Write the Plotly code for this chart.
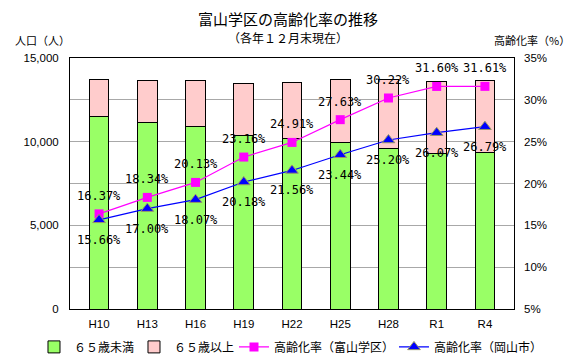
import plotly.graph_objects as go

categories = ["H10", "H13", "H16", "H19", "H22", "H25", "H28", "R1", "R4"]
under65 = [11480, 11145, 10900, 10360, 10170, 9935, 9565, 9305, 9345]
over65 = [2250, 2500, 2745, 3125, 3375, 3795, 4140, 4300, 4320]
rate_tomiyama = [16.37, 18.34, 20.13, 23.16, 24.91, 27.63, 30.22, 31.60, 31.61]
rate_okayama = [15.66, 17.00, 18.07, 20.18, 21.56, 23.44, 25.20, 26.07, 26.79]

JP = "Noto Sans CJK JP"
NUM = "DejaVu Sans Mono, Noto Sans CJK JP"
TICK = "Liberation Sans"

fig = go.Figure()
fig.add_trace(go.Bar(
    x=categories, y=under65, name="６５歳未満", legendwidth=55,
    marker=dict(color="#99FF66", line=dict(color="black", width=1)),
))
fig.add_trace(go.Bar(
    x=categories, y=over65, name="６５歳以上", legendwidth=55,
    marker=dict(color="#FFCCCC", line=dict(color="black", width=1)),
))
fig.add_trace(go.Scatter(
    x=categories, y=rate_tomiyama, name="高齢化率（富山学区）", yaxis="y2",
    mode="lines+markers", legendwidth=115,
    line=dict(color="#FF00FF", width=1.2),
    marker=dict(symbol="square", size=9, color="#FF00FF"),
))
fig.add_trace(go.Scatter(
    x=categories, y=rate_okayama, name="高齢化率（岡山市）", yaxis="y2",
    mode="lines+markers", legend="legend2",
    line=dict(color="#0000FF", width=1.2),
    marker=dict(symbol="triangle-up", size=11, color="#0000FF",
                line=dict(color="#999966", width=1)),
))

annotations = [
    dict(text="富山学区の高齢化率の推移", xref="paper", yref="paper",
         x=0.5, xshift=-4, y=1, yshift=40, showarrow=False, xanchor="center",
         yanchor="middle", font=dict(family=JP, size=15)),
    dict(text="（各年１２月末現在）", xref="paper", yref="paper",
         x=0.5, xshift=-4, y=1, yshift=21, showarrow=False, xanchor="center",
         yanchor="middle", font=dict(family=JP, size=12)),
    dict(text="人口（人）", xref="paper", yref="paper",
         x=0, xshift=-57, y=1, yshift=18, showarrow=False, xanchor="left",
         yanchor="middle", font=dict(family=JP, size=11)),
    dict(text="高齢化率（%）", xref="paper", yref="paper",
         x=1, xshift=58, y=1, yshift=18, showarrow=False, xanchor="right",
         yanchor="middle", font=dict(family=JP, size=11)),
]
for c, v in zip(categories, rate_tomiyama):
    annotations.append(dict(text=f"{v:.2f}%", x=c, y=v, xref="x", yref="y2",
                            yshift=18, showarrow=False,
                            font=dict(family=NUM, size=12, color="black")))
for c, v in zip(categories, rate_okayama):
    annotations.append(dict(text=f"{v:.2f}%", x=c, y=v, xref="x", yref="y2",
                            yshift=-20, showarrow=False,
                            font=dict(family=NUM, size=12, color="black")))

legend_common = dict(orientation="h", xanchor="left", y=-0.151,
                     yanchor="middle", font=dict(family=JP, size=12),
                     traceorder="normal", itemwidth=30)

fig.update_layout(
    width=572, height=352,
    margin=dict(l=62, r=66, t=50, b=51, autoexpand=False),
    barmode="stack", bargap=0.59,
    plot_bgcolor="white", paper_bgcolor="white",
    font=dict(family=JP, size=11, color="black"),
    xaxis=dict(showline=True, linecolor="black", linewidth=1, mirror=True,
               ticks="", ticklabelstandoff=4,
               tickfont=dict(family=TICK, size=11.5)),
    yaxis=dict(range=[0, 15000], tickvals=[0, 5000, 10000, 15000],
               ticktext=["0", "5,000", "10,000", "15,000"],
               showgrid=False, showline=True, linecolor="black", linewidth=1,
               mirror=True, zeroline=False, ticks="", ticklabelstandoff=8,
               tickfont=dict(family=TICK, size=11.5)),
    yaxis2=dict(range=[5, 35], dtick=5, ticksuffix="%", overlaying="y",
                side="right", showgrid=True, gridcolor="#A8A8A8", gridwidth=1,
                zeroline=False, showline=False, ticks="", ticklabelstandoff=9,
                tickfont=dict(family=TICK, size=11.5)),
    legend=dict(x=-0.0811, **legend_common),
    legend2=dict(x=0.7297, **legend_common),
    showlegend=True,
    annotations=annotations,
)

fig.write_html("out.html")
